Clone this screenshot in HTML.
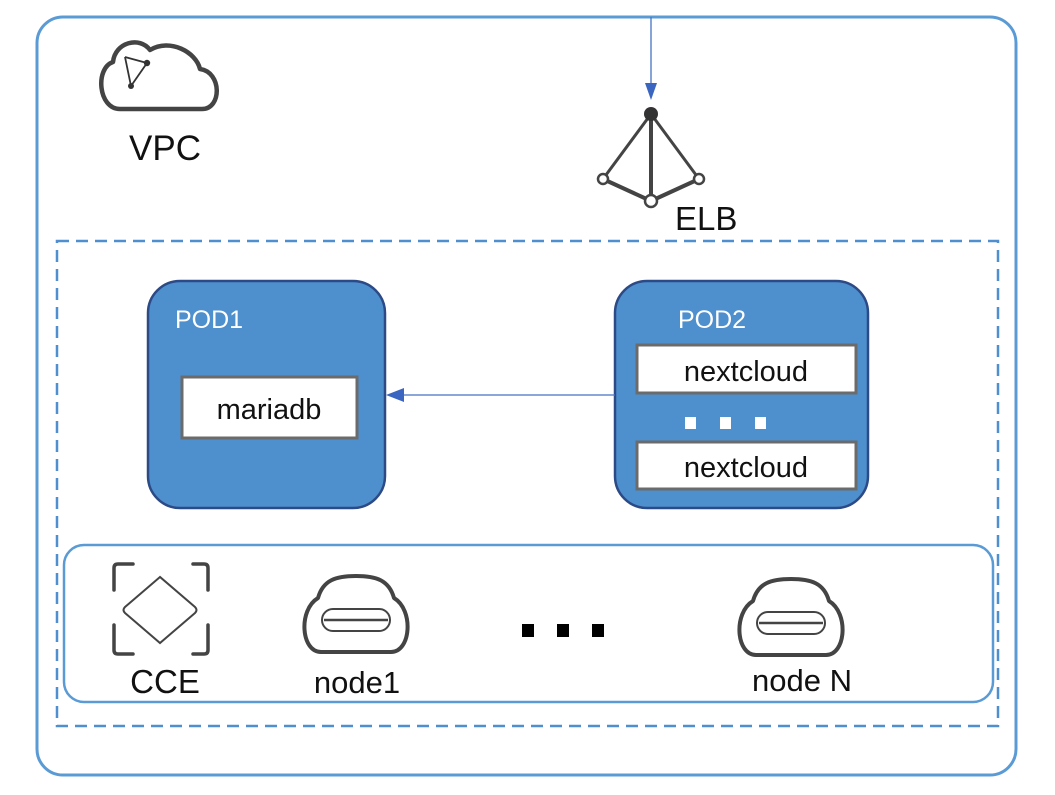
<!DOCTYPE html>
<html><head><meta charset="utf-8"><style>html,body{margin:0;padding:0;background:#fff}svg{display:block}</style></head>
<body>
<svg width="1055" height="795" viewBox="0 0 1055 795" xmlns="http://www.w3.org/2000/svg" font-family="Liberation Sans, sans-serif">
<rect x="37" y="17" width="979" height="758" rx="26" fill="#fff" stroke="#5b9bd5" stroke-width="3"/>
<rect x="57" y="241" width="941" height="485" fill="none" stroke="#4f8fd0" stroke-width="2.5" stroke-dasharray="12,7"/>
<rect x="64" y="545" width="929" height="157" rx="20" fill="#fff" stroke="#5b9bd5" stroke-width="2.5"/>
<line x1="651" y1="17" x2="651" y2="88" stroke="#4472c4" stroke-width="1.3"/>
<polygon points="645,83 657,83 651,100" fill="#3a65c0"/>
<g stroke="#444" stroke-width="3" fill="none">
<line x1="651" y1="114" x2="603" y2="179"/>
<line x1="651" y1="114" x2="699" y2="179"/>
<line x1="651" y1="114" x2="651" y2="200" stroke-width="4"/>
<line x1="603" y1="179" x2="651" y2="201" stroke-width="4"/>
<line x1="699" y1="179" x2="651" y2="201" stroke-width="4"/>
</g>
<circle cx="651" cy="114" r="7" fill="#333"/>
<circle cx="603" cy="179" r="5" fill="#fff" stroke="#444" stroke-width="2.5"/>
<circle cx="699" cy="179" r="5" fill="#fff" stroke="#444" stroke-width="2.5"/>
<circle cx="651" cy="201" r="6" fill="#fff" stroke="#444" stroke-width="2.5"/>
<text x="675" y="230" font-size="33" fill="#111">ELB</text>
<path d="M120,109 L202,109 C222,109 222,72 200,69 C196,52 170,38 150,50 C140,36 115,42 113,62 C95,68 98,109 120,109 Z" fill="none" stroke="#444" stroke-width="4.5" stroke-linejoin="round"/>
<g stroke="#333" stroke-width="1.8"><line x1="125" y1="57" x2="147" y2="63"/><line x1="147" y1="63" x2="131" y2="86"/><line x1="131" y1="86" x2="125" y2="57"/></g>
<circle cx="147" cy="63" r="3.2" fill="#333"/><circle cx="131" cy="86" r="3" fill="#333"/>
<text x="165" y="160" font-size="35" fill="#111" text-anchor="middle">VPC</text>
<rect x="148" y="281" width="237" height="227" rx="32" fill="#4e8fce" stroke="#2c4a86" stroke-width="2.5"/>
<text x="175" y="328" font-size="25" fill="#fff">POD1</text>
<rect x="182" y="377" width="175" height="61" fill="#fff" stroke="#6b6b6b" stroke-width="3"/>
<text x="269" y="419" font-size="29" fill="#111" text-anchor="middle">mariadb</text>
<rect x="615" y="281" width="253" height="227" rx="32" fill="#4e8fce" stroke="#2c4a86" stroke-width="2.5"/>
<text x="678" y="328" font-size="25" fill="#fff">POD2</text>
<rect x="637" y="345" width="219" height="48" fill="#fff" stroke="#6b6b6b" stroke-width="3"/>
<text x="746" y="381" font-size="29" fill="#111" text-anchor="middle">nextcloud</text>
<rect x="685" y="417" width="11" height="12" fill="#fff"/><rect x="720" y="417" width="11" height="12" fill="#fff"/><rect x="755" y="417" width="11" height="12" fill="#fff"/>
<rect x="637" y="442" width="219" height="47" fill="#fff" stroke="#6b6b6b" stroke-width="3"/>
<text x="746" y="477" font-size="29" fill="#111" text-anchor="middle">nextcloud</text>
<line x1="615" y1="395" x2="398" y2="395" stroke="#4472c4" stroke-width="1.3"/>
<polygon points="386,395 404,388 404,402" fill="#3a65c0"/>
<g stroke="#444" stroke-width="3.5" fill="none" stroke-linecap="round">
<path d="M114,590 L114,568 Q114,564 118,564 L133,564"/>
<path d="M193,564 L204,564 Q208,564 208,568 L208,590"/>
<path d="M114,625 L114,650 Q114,654 118,654 L133,654"/>
<path d="M193,654 L204,654 Q208,654 208,650 L208,625"/>
</g>
<path d="M160,577 L125,607 Q122,610 125,613 L160,643 L195,613 Q198,610 195,607 Z" fill="none" stroke="#444" stroke-width="2"/>
<text x="165" y="693" font-size="33" fill="#111" text-anchor="middle">CCE</text>
<g fill="none" stroke="#444" stroke-width="4" stroke-linejoin="round">
<path d="M321,652 L391,652 C411,652 414,610 394,598 C389,580 376,576 356,576 C336,576 323,580 318,598 C298,610 301,652 321,652 Z"/>
<path d="M756,655 L826,655 C846,655 849,613 829,601 C824,583 811,579 791,579 C771,579 758,583 753,601 C733,613 736,655 756,655 Z"/>
</g>
<rect x="322" y="609" width="68" height="22" rx="11" fill="none" stroke="#444" stroke-width="2"/>
<line x1="324" y1="620" x2="388" y2="620" stroke="#444" stroke-width="2.5"/>
<rect x="757" y="612" width="68" height="22" rx="11" fill="none" stroke="#444" stroke-width="2"/>
<line x1="759" y1="623" x2="823" y2="623" stroke="#444" stroke-width="2.5"/>
<text x="357" y="693" font-size="31" fill="#111" text-anchor="middle">node1</text>
<text x="802" y="691" font-size="31" fill="#111" text-anchor="middle">node N</text>
<rect x="522" y="624" width="12" height="13" fill="#000"/><rect x="557" y="624" width="12" height="13" fill="#000"/><rect x="592" y="624" width="12" height="13" fill="#000"/>
</svg>
</body></html>
